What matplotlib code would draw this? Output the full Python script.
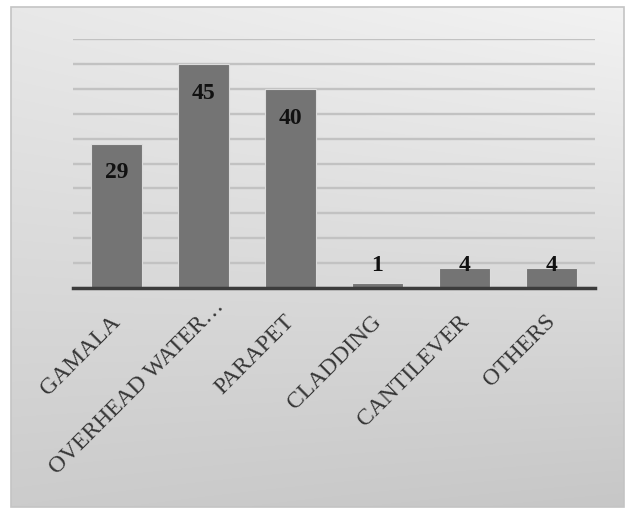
import numpy as np
import matplotlib.pyplot as plt
from matplotlib.patches import Rectangle
import matplotlib.transforms as mtransforms

categories = ["GAMALA", "OVERHEAD WATER\u2026", "PARAPET", "CLADDING", "CANTILEVER", "OTHERS"]
counts = [29, 45, 40, 1, 4, 4]
y_ticks = [0, 5, 10, 15, 20, 25, 30, 35, 40, 45, 50]

W, H = 626, 508
fig = plt.figure(figsize=(W / 100, H / 100), dpi=100)
fig.patch.set_facecolor("white")

# shaded panel behind the chart
bx0, by0, bx1, by1 = 11, 7, 624, 507
bg = fig.add_axes([bx0 / W, 1 - by1 / H, (bx1 - bx0) / W, (by1 - by0) / H], zorder=0)
ny, nx = 200, 200
ty = np.linspace(0, 1, ny)[:, None]
tx = np.linspace(0, 1, nx)[None, :]
tl, tr, bl, br = 0.91, 0.95, 0.80, 0.78
shade = (tl * (1 - tx) * (1 - ty) + tr * tx * (1 - ty)
         + bl * (1 - tx) * ty + br * tx * ty)
bg.imshow(np.dstack([shade] * 3), aspect="auto", extent=(0, 1, 0, 1), interpolation="bilinear")
bg.set_axis_off()
fig.add_artist(Rectangle((bx0 / W, 1 - by1 / H), (bx1 - bx0) / W, (by1 - by0) / H,
                         transform=fig.transFigure, fill=False, edgecolor="#c4c4c4", linewidth=1.2))

ax = fig.add_axes([73 / W, 1 - 288 / H, (595 - 73) / W, (288 - 39) / H], zorder=1)
ax.set_facecolor("none")

x = np.arange(len(categories))
ax.bar(x, counts, width=0.58, color="#747474", edgecolor="#dcdcdc", linewidth=0.8, zorder=3)

ax.set_xlim(-0.5, len(categories) - 0.5)
ax.set_ylim(0, 50)
ax.set_yticks(y_ticks)
ax.yaxis.grid(True, color="#c2c2c2", linewidth=1.7, zorder=1)
ax.set_axisbelow(True)
ax.tick_params(axis="y", left=False, labelleft=False)
ax.tick_params(axis="x", bottom=False, pad=18.5)
for side in ["top", "right", "left"]:
    ax.spines[side].set_visible(False)
ax.spines["bottom"].set_color("#3c3c3c")
ax.spines["bottom"].set_linewidth(2.5)
ax.spines["bottom"].set_zorder(4)

ax.set_xticks(x)
ax.set_xticklabels(categories, rotation=45, ha="right", va="center", rotation_mode="anchor",
                   fontsize=17, family="Liberation Serif", color="#363636")
for i, lbl in enumerate(ax.get_xticklabels()):
    dx, dy = 1, 0
    if i == 1:
        # the truncated label sits further up along its own slant
        dx, dy = 17, 15
    shift = mtransforms.ScaledTranslation(dx / 100, dy / 100, fig.dpi_scale_trans)
    lbl.set_transform(lbl.get_transform() + shift)

# value labels just inside the bar tops, lifted above short bars
for xi, v in zip(x, counts):
    ax.text(xi, max(v - 5.9, 4.5), str(v), ha="center", va="center",
            fontsize=17, fontweight="bold", family="Liberation Serif", color="#111111", zorder=5)

fig.savefig("out.png", dpi=100)
